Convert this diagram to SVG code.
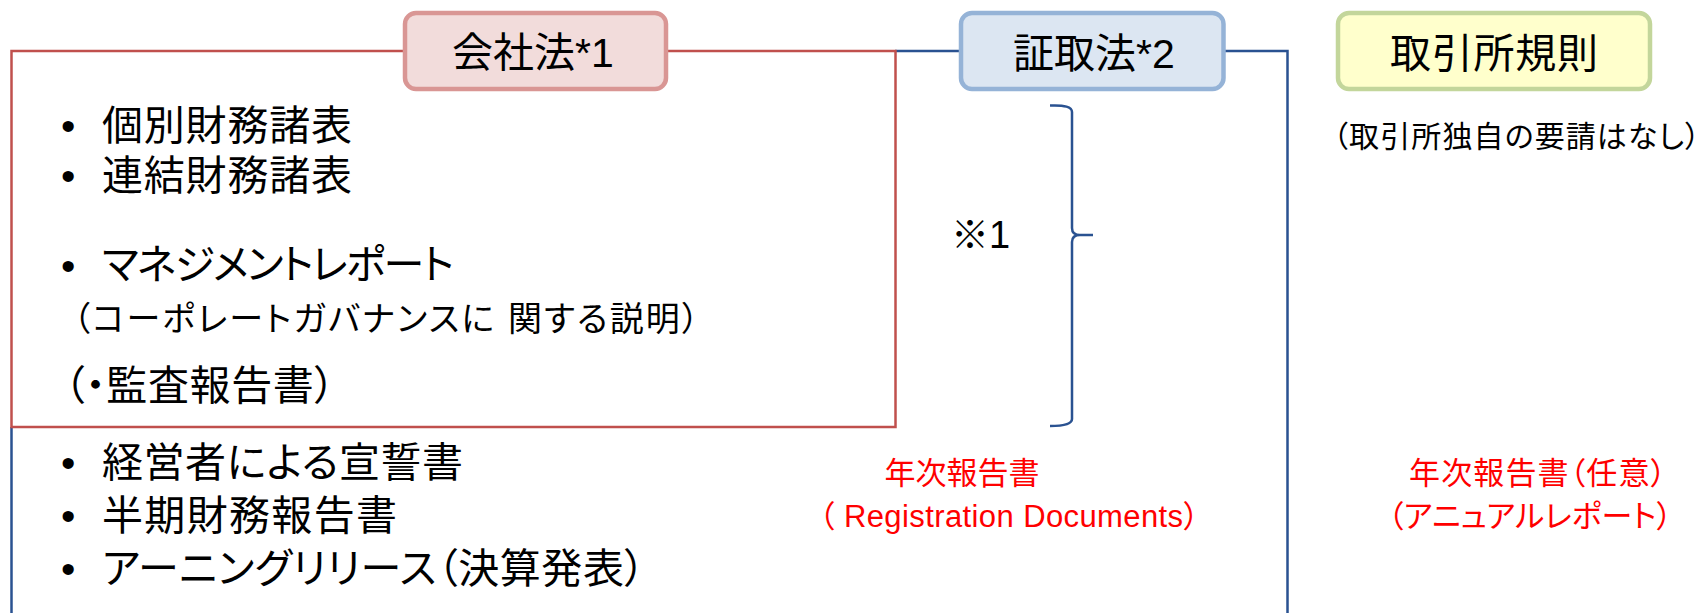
<svg xmlns="http://www.w3.org/2000/svg" width="1703" height="613" viewBox="0 0 1703 613">
<style>
  text { font-family: "Liberation Sans", "Noto Sans CJK JP", sans-serif; fill: #000; font-feature-settings: "palt"; }
  .big { font-size: 41px; }
  .mid { font-size: 34px; }
  .sm { font-size: 30px; }
  .red { font-size: 31px; fill: #FF0000; }
  .hdr { font-size: 41px; text-anchor: middle; }
  .box { stroke-width: 4.5; }
  .bline { fill: none; stroke: #2A5291; stroke-width: 2.5; }
  .rline { fill: none; stroke: #C0504D; stroke-width: 2.5; }
</style>
<rect width="1703" height="613" fill="#FFFFFF"/>
<g id="connectors">
  <path class="bline" d="M 895 51 H 1287.5 V 613"/>
  <path class="bline" d="M 11.5 427 V 613"/>
  <rect class="rline" x="11.5" y="51" width="884" height="376"/>
  <path class="bline" stroke-width="3" d="M 1050 105.5 Q 1072 104.5 1072 112 V 228 Q 1072 235 1080 235 H 1093 M 1080 235 Q 1072 235 1072 242 V 419 Q 1072 426 1050 426"/>
</g>
<g id="node-kaishaho">
  <rect class="box" x="405" y="13" width="261" height="76" rx="11" fill="#F2DCDB" stroke="#D99694"/>
  <text class="hdr" x="533" y="67">会社法*1</text>
</g>
<g id="node-shotoriho">
  <rect class="box" x="961" y="13" width="262.5" height="76" rx="11" fill="#DCE6F2" stroke="#95B3D7"/>
  <text class="hdr" x="1094" y="68">証取法*2</text>
</g>
<g id="node-torihikisho">
  <rect class="box" x="1338" y="13" width="312" height="76" rx="11" fill="#FFFFCC" stroke="#C3D69B"/>
  <text class="hdr" x="1494" y="68" textLength="208" lengthAdjust="spacing">取引所規則</text>
</g>
<g id="note-torihikisho">
  <text class="sm" x="1333" y="147" textLength="367" lengthAdjust="spacing">（取引所独自の要請はなし）</text>
</g>
<g id="list-kaishaho">
  <text class="big" x="61" y="140">•</text>
  <text class="big" x="102" y="140" textLength="250" lengthAdjust="spacing">個別財務諸表</text>
  <text class="big" x="61" y="190">•</text>
  <text class="big" x="102" y="190" textLength="250" lengthAdjust="spacing">連結財務諸表</text>
  <text class="big" x="61" y="280">•</text>
  <text class="big" x="102" y="279" textLength="352" lengthAdjust="spacing">マネジメントレポート</text>
  <text class="mid" x="73" y="331" textLength="626" lengthAdjust="spacing">（コーポレートガバナンスに 関する説明）</text>
  <text class="big" x="64" y="400" textLength="271" lengthAdjust="spacing">（・監査報告書）</text>
</g>
<g id="list-shotoriho">
  <text class="big" x="61" y="477">•</text>
  <text class="big" x="102" y="477" textLength="361" lengthAdjust="spacing">経営者による宣誓書</text>
  <text class="big" x="61" y="530">•</text>
  <text class="big" x="102" y="530" textLength="295" lengthAdjust="spacing">半期財務報告書</text>
  <text class="big" x="61" y="583">•</text>
  <text class="big" x="102" y="583" textLength="543" lengthAdjust="spacing">アーニングリリース（決算発表）</text>
</g>
<g id="note-bracket">
  <text x="951" y="248" font-size="38">※1</text>
</g>
<g id="annual-shotoriho">
  <text class="red" x="962" y="484" text-anchor="middle">年次報告書</text>
  <text class="red" x="819" y="527" textLength="380" lengthAdjust="spacing">（ Registration Documents）</text>
</g>
<g id="annual-torihikisho">
  <text class="red" x="1409" y="484" textLength="257" lengthAdjust="spacing">年次報告書（任意）</text>
  <text class="red" x="1388" y="527" textLength="284" lengthAdjust="spacing">（アニュアルレポート）</text>
</g>
</svg>
